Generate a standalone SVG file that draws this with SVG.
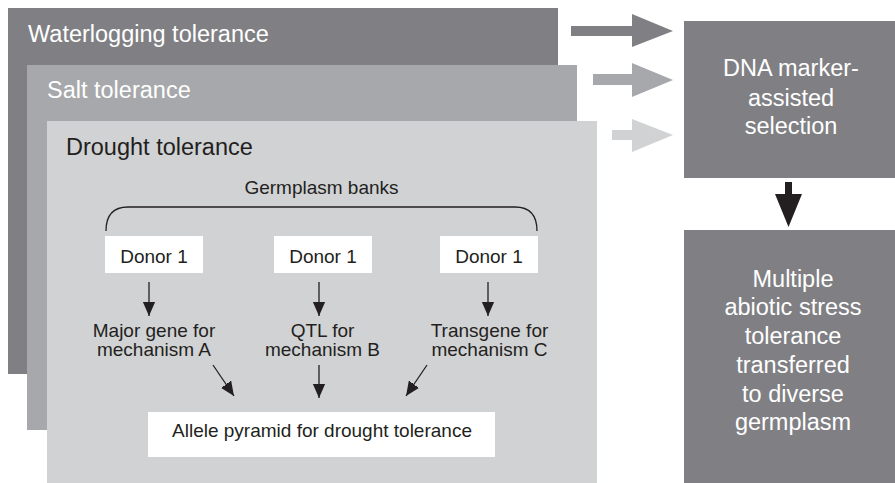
<svg xmlns="http://www.w3.org/2000/svg" width="895" height="483" viewBox="0 0 895 483">
<defs>
<style>
text{font-family:"Liberation Sans",Arial,Helvetica,sans-serif}
.big{font-size:23.5px}
.sm{font-size:19px;fill:#231f20}
.w{fill:#ffffff}
.k{fill:#231f20}
.dark{fill:#808084}
.mid{fill:#a7a8ab}
.light{fill:#d1d2d4}
.ln{stroke:#231f20;stroke-width:1.3;fill:none}
</style>
<marker id="ah" viewBox="0 0 14 16" refX="14" refY="7" markerWidth="14" markerHeight="16" markerUnits="userSpaceOnUse" orient="auto">
<path d="M0,0 L16,7 L0,14 Z" transform="translate(-2,0)" fill="#231f20"/>
</marker>
</defs>
<rect width="895" height="483" fill="#ffffff"/>

<g id="waterlogging">
<rect x="8" y="8" width="550" height="366" class="dark"/>
<text x="28" y="42" class="big w">Waterlogging tolerance</text>
</g>
<g id="salt">
<rect x="27" y="65" width="550" height="365" class="mid"/>
<text x="47" y="98" class="big w">Salt tolerance</text>
</g>
<g id="drought">
<rect x="47" y="121" width="550" height="362" class="light"/>
<text x="66" y="155" class="big k">Drought tolerance</text>
</g>
<g id="germplasm">
<text x="321.5" y="194" class="sm" text-anchor="middle">Germplasm banks</text>
<path d="M106,231 Q106,207 128,207 L515,207 Q537,207 537,231" class="ln"/>
</g>
<g id="donor1">
<rect x="105" y="236" width="98" height="37" class="w"/>
<text x="154" y="263" class="sm" text-anchor="middle">Donor 1</text>
</g>
<g id="donor2">
<rect x="274" y="236" width="98" height="37" class="w"/>
<text x="323" y="263" class="sm" text-anchor="middle">Donor 1</text>
</g>
<g id="donor3">
<rect x="440" y="236" width="98" height="37" class="w"/>
<text x="489" y="263" class="sm" text-anchor="middle">Donor 1</text>
</g>
<g id="geneA">
<text class="sm" text-anchor="middle"><tspan x="154" y="337">Major gene for</tspan><tspan x="154" y="355.5">mechanism A</tspan></text>
</g>
<g id="qtlB">
<text class="sm" text-anchor="middle"><tspan x="322.5" y="337">QTL for</tspan><tspan x="322.5" y="355.5">mechanism B</tspan></text>
</g>
<g id="transgeneC">
<text class="sm" text-anchor="middle"><tspan x="489.5" y="337">Transgene for</tspan><tspan x="489.5" y="355.5">mechanism C</tspan></text>
</g>
<g id="pyramid">
<rect x="148" y="412" width="347" height="45" class="w"/>
<text x="322" y="437" class="sm" text-anchor="middle">Allele pyramid for drought tolerance</text>
</g>
<g id="dna">
<rect x="684" y="21" width="211" height="157" class="dark"/>
<text class="big w" text-anchor="middle"><tspan x="791" y="76">DNA marker-</tspan><tspan x="791" y="106">assisted</tspan><tspan x="791" y="134">selection</tspan></text>
</g>
<g id="multiple">
<rect x="684" y="230" width="211" height="253" class="dark"/>
<text class="big w" text-anchor="middle"><tspan x="793" y="287">Multiple</tspan><tspan x="793" y="315">abiotic stress</tspan><tspan x="793" y="344">tolerance</tspan><tspan x="793" y="373">transferred</tspan><tspan x="793" y="402">to diverse</tspan><tspan x="793" y="430">germplasm</tspan></text>
</g>
<g id="connectors">
<line x1="149" y1="282" x2="149" y2="316" class="ln" marker-end="url(#ah)"/>
<line x1="319" y1="282" x2="319" y2="316" class="ln" marker-end="url(#ah)"/>
<line x1="488" y1="282" x2="488" y2="316" class="ln" marker-end="url(#ah)"/>
<line x1="213" y1="365" x2="234" y2="396" class="ln" marker-end="url(#ah)"/>
<line x1="319" y1="365" x2="319" y2="398" class="ln" marker-end="url(#ah)"/>
<line x1="427" y1="365" x2="406" y2="396" class="ln" marker-end="url(#ah)"/>
<path d="M571,26 L632,26 L632,14 L673,31 L632,47 L632,36 L571,36 Z" class="dark"/>
<path d="M593,74 L632,74 L632,63 L673,80 L632,97 L632,85 L593,85 Z" class="mid"/>
<path d="M612,130 L632,130 L632,119 L673,135 L632,152 L632,140 L612,140 Z" class="light"/>
<path d="M785,182 L792,182 L792,194 L802,194 L788.5,227 L775,194 L785,194 Z" fill="#231f20"/>
</g>
</svg>
